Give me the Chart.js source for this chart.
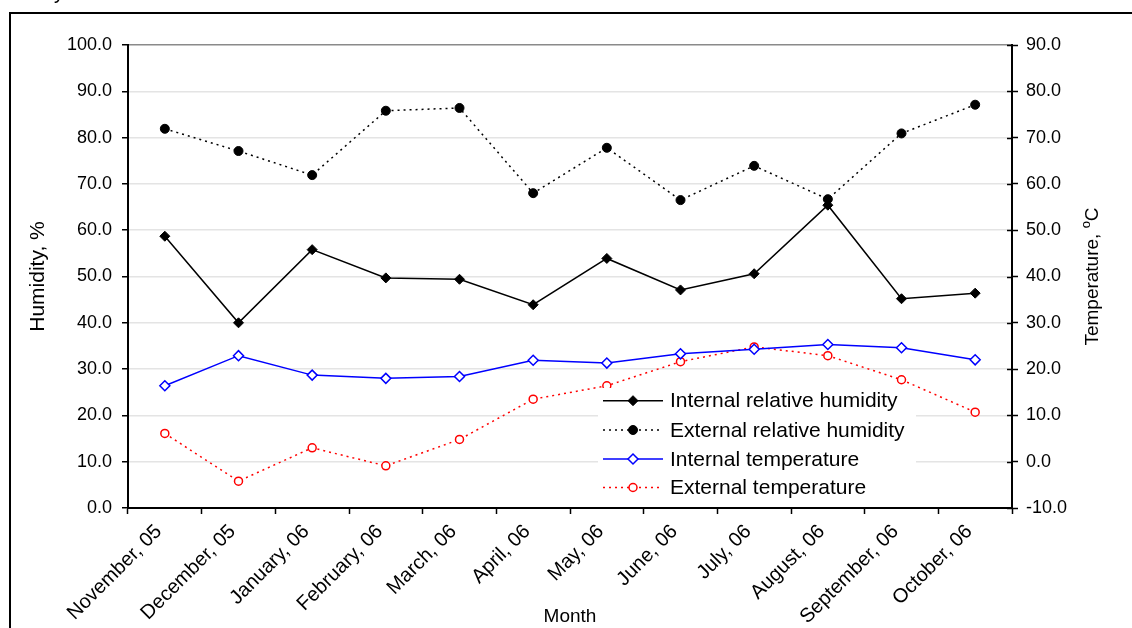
<!DOCTYPE html>
<html>
<head>
<meta charset="utf-8">
<script src="https://cdn.jsdelivr.net/npm/chart.js@4/dist/chart.umd.min.js"></script>
<style>
  html, body { margin: 0; padding: 0; background: #fff; }
  #wrap { width: 1132px; height: 628px; position: relative; }
</style>
</head>
<body>
<div id="wrap"><canvas id="c" width="1132" height="628"></canvas></div>
<script>
// Monthly humidity and temperature, November 2005 – October 2006
const months = ['November, 05', 'December, 05', 'January, 06', 'February, 06', 'March, 06', 'April, 06',
  'May, 06', 'June, 06', 'July, 06', 'August, 06', 'September, 06', 'October, 06'];

const internalHumidity = [58.7, 40.0, 55.8, 49.7, 49.4, 43.9, 53.9, 47.1, 50.6, 65.4, 45.2, 46.4];
const externalHumidity = [81.9, 77.1, 71.9, 85.8, 86.4, 68.0, 77.8, 66.5, 73.9, 66.7, 80.9, 87.1];
const internalTemp = [16.4, 22.9, 18.7, 18.0, 18.4, 21.9, 21.3, 23.3, 24.3, 25.3, 24.6, 22.0];
const externalTemp = [6.1, -4.2, 3.0, -0.9, 4.8, 13.5, 16.4, 21.6, 24.8, 22.9, 17.7, 10.7];

const FONT = "'Liberation Sans', Arial, sans-serif";

// Outer frame and the inward half of the right-axis tick marks
const framePlugin = {
  id: 'frame',
  beforeDraw(chart) {
    const ctx = chart.ctx;
    ctx.save();
    ctx.fillStyle = '#fff';
    ctx.fillRect(0, 0, chart.width, chart.height);
    ctx.strokeStyle = '#000';
    ctx.lineWidth = 2;
    ctx.beginPath();
    ctx.moveTo(10, chart.height);
    ctx.lineTo(10, 13);
    ctx.lineTo(chart.width, 13);
    ctx.stroke();
    ctx.fillStyle = '#000';
    ctx.font = '20px ' + FONT;
    ctx.textBaseline = 'alphabetic';
    ctx.fillText('y', 54, -1);
    ctx.restore();
  },
  afterDraw(chart) {
    const ctx = chart.ctx;
    const yr = chart.scales.yRight;
    ctx.save();
    ctx.strokeStyle = '#000';
    ctx.lineWidth = 1.5;
    yr.ticks.forEach(t => {
      const y = Math.round(yr.getPixelForValue(t.value)) + 0.5;
      ctx.beginPath();
      ctx.moveTo(yr.left - 5, y);
      ctx.lineTo(yr.left, y);
      ctx.stroke();
    });
    // right axis title, reading bottom to top
    ctx.fillStyle = '#000';
    ctx.translate(1093, (chart.chartArea.top + chart.chartArea.bottom) / 2);
    ctx.rotate(-Math.PI / 2);
    ctx.font = '19px ' + FONT;
    ctx.textBaseline = 'middle';
    const main = 'Temperature, ';
    const wMain = ctx.measureText(main).width;
    ctx.font = '13px ' + FONT;
    const wO = ctx.measureText('o').width;
    ctx.font = '19px ' + FONT;
    const wC = ctx.measureText('C').width;
    let x = -(wMain + wO + wC) / 2;
    ctx.textAlign = 'left';
    ctx.fillText(main, x, 0);
    x += wMain;
    ctx.font = '13px ' + FONT;
    ctx.fillText('o', x, -7);
    x += wO;
    ctx.font = '19px ' + FONT;
    ctx.fillText('C', x, 0);
    ctx.restore();
  }
};

// Legend box drawn inside the plot area
const legendPlugin = {
  id: 'innerLegend',
  afterDatasetsDraw(chart) {
    const ctx = chart.ctx;
    ctx.save();
    ctx.fillStyle = '#fff';
    ctx.fillRect(598, 388, 318, 118);
    const rows = [400.7, 430, 459, 487.5];
    chart.data.datasets.forEach((ds, i) => {
      const y = rows[i];
      ctx.strokeStyle = ds.borderColor;
      ctx.lineWidth = ds.borderWidth;
      ctx.setLineDash(ds.borderDash || []);
      ctx.beginPath();
      ctx.moveTo(603, y);
      ctx.lineTo(663, y);
      ctx.stroke();
      ctx.setLineDash([]);
      const cx = 633, r = ds.pointRadius;
      ctx.beginPath();
      if (ds.pointStyle === 'rectRot') {
        ctx.moveTo(cx, y - r); ctx.lineTo(cx + r, y); ctx.lineTo(cx, y + r); ctx.lineTo(cx - r, y); ctx.closePath();
      } else {
        ctx.arc(cx, y, r, 0, Math.PI * 2);
      }
      ctx.fillStyle = ds.pointBackgroundColor;
      ctx.fill();
      ctx.lineWidth = ds.pointBorderWidth;
      ctx.strokeStyle = ds.pointBorderColor;
      ctx.stroke();
      ctx.fillStyle = '#000';
      ctx.font = '21px ' + FONT;
      ctx.textBaseline = 'middle';
      ctx.textAlign = 'left';
      ctx.fillText(ds.label, 670, y + 1);
    });
    ctx.restore();
  }
};

new Chart(document.getElementById('c'), {
  type: 'line',
  data: {
    labels: months,
    datasets: [
      {
        label: 'Internal relative humidity', data: internalHumidity, yAxisID: 'y',
        borderColor: '#000', borderWidth: 1.5, tension: 0,
        pointStyle: 'rectRot', pointRadius: 5, pointBackgroundColor: '#000',
        pointBorderColor: '#000', pointBorderWidth: 1
      },
      {
        label: 'External relative humidity', data: externalHumidity, yAxisID: 'y',
        borderColor: '#000', borderWidth: 1.5, borderDash: [2, 4], tension: 0,
        pointStyle: 'circle', pointRadius: 4.5, pointBackgroundColor: '#000',
        pointBorderColor: '#000', pointBorderWidth: 1
      },
      {
        label: 'Internal temperature', data: internalTemp, yAxisID: 'yRight',
        borderColor: '#0000ff', borderWidth: 1.5, tension: 0,
        pointStyle: 'rectRot', pointRadius: 5, pointBackgroundColor: '#fff',
        pointBorderColor: '#0000ff', pointBorderWidth: 1.5
      },
      {
        label: 'External temperature', data: externalTemp, yAxisID: 'yRight',
        borderColor: '#ff0000', borderWidth: 1.5, borderDash: [2, 4], tension: 0,
        pointStyle: 'circle', pointRadius: 4, pointBackgroundColor: '#fff',
        pointBorderColor: '#ff0000', pointBorderWidth: 1.5
      }
    ]
  },
  options: {
    responsive: false,
    animation: false,
    devicePixelRatio: 1,
    layout: { padding: { top: 45, left: 0, right: 0, bottom: 0 } },
    plugins: { legend: { display: false }, tooltip: { enabled: false }, title: { display: false } },
    scales: {
      x: {
        type: 'category',
        offset: true,
        afterFit(s) { s.height = 120; },
        grid: { offset: true, drawOnChartArea: false, tickLength: 6, tickColor: '#000', tickWidth: 1.5 },
        border: { color: '#000', width: 2 },
        ticks: { autoSkip: false, maxRotation: 45, minRotation: 45, padding: 6, labelOffset: -6, color: '#000', font: { family: FONT, size: 20 } },
        title: { display: true, text: 'Month', color: '#000', font: { family: FONT, size: 19 }, padding: { top: 0, bottom: 0 } }
      },
      y: {
        position: 'left',
        min: 0, max: 100,
        afterFit(s) { s.width = 128; },
        grid: {
          color: ctx => (ctx.tick && ctx.tick.value === 100 ? '#8a8a8a' : '#e4e4e4'),
          lineWidth: 1.5, tickLength: 6, tickColor: '#000', tickWidth: 1.5
        },
        border: { color: '#000', width: 2 },
        ticks: { stepSize: 10, padding: 10, color: '#000', font: { family: FONT, size: 18 }, callback: v => v.toFixed(1) },
        title: { display: true, text: 'Humidity, %', color: '#000', font: { family: FONT, size: 21 }, padding: { top: 26, bottom: 0 } }
      },
      yRight: {
        position: 'right',
        min: -10, max: 90,
        afterFit(s) { s.width = 120; },
        grid: { drawOnChartArea: false, tickLength: 6, tickColor: '#000', tickWidth: 1.5 },
        border: { color: '#000', width: 2 },
        ticks: { stepSize: 10, padding: 8, color: '#000', font: { family: FONT, size: 18 }, callback: v => v.toFixed(1) }
      }
    }
  },
  plugins: [framePlugin, legendPlugin]
});
</script>
</body>
</html>
